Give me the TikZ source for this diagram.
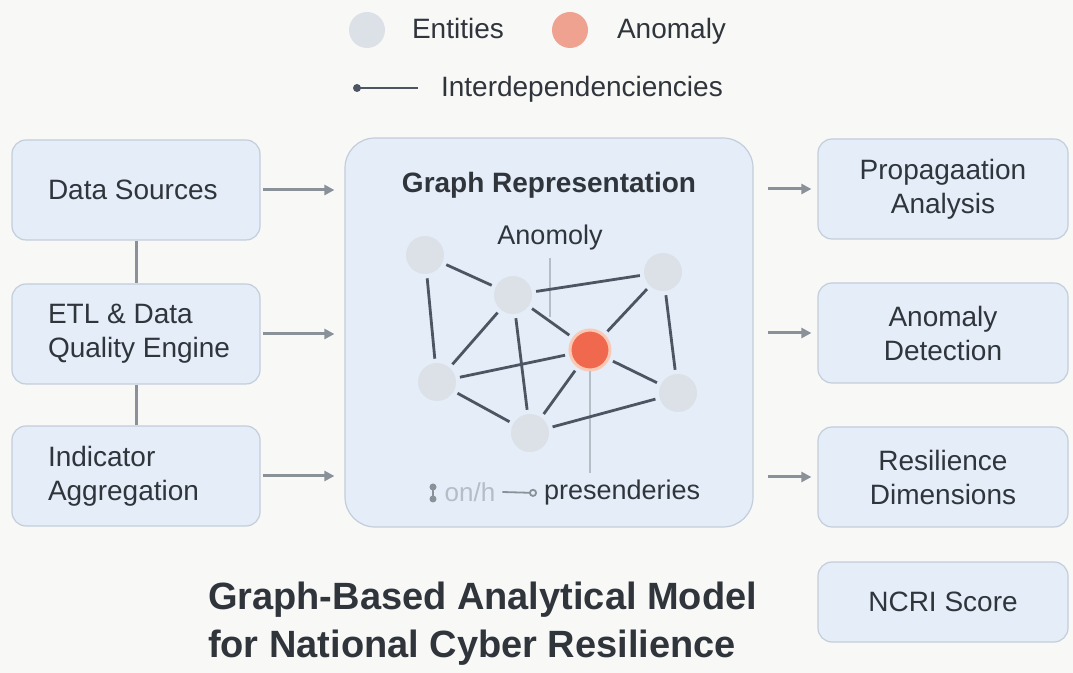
\documentclass[tikz,border=0pt]{standalone}
\usepackage{fontspec}
\setmainfont{Liberation Sans}
\usetikzlibrary{arrows.meta}

\definecolor{ink}{HTML}{30353C}
\definecolor{boxfill}{HTML}{E4EDF8}
\definecolor{boxline}{HTML}{C3CEDA}
\definecolor{edgegray}{HTML}{4C5561}
\definecolor{flowgray}{HTML}{8A9199}
\definecolor{entgray}{HTML}{DCE1E7}
\definecolor{anomred}{HTML}{F0694E}
\definecolor{anomhalo}{HTML}{F9C9B6}
\definecolor{anomsoft}{HTML}{EFA290}
\definecolor{pagebg}{HTML}{F8F8F7}
\definecolor{guide}{HTML}{B5BDC6}

\tikzset{
  lbl/.style={font=\fontsize{14}{17}\selectfont, text=ink},
  srcbox/.style={lbl, draw=boxline, fill=boxfill, line width=0.6pt, rounded corners=7pt,
    minimum width=124pt, minimum height=50pt, text width=88pt, align=flush left},
  outbox/.style={srcbox, minimum width=125pt, text width=110pt, align=flush center},
  entity/.style={circle, fill=entgray, minimum size=19pt, inner sep=0pt},
  anomnode/.style={circle, fill=anomred, draw=anomhalo, line width=1.5pt, minimum size=20pt, inner sep=0pt},
  link/.style={draw=edgegray, line width=1.4pt, shorten <=2pt, shorten >=2pt},
  flow/.style={draw=flowgray, line width=1.5pt, -{Triangle[length=5pt,width=5pt]}},
  guideline/.style={draw=guide, line width=0.8pt},
}

\begin{document}
\begin{tikzpicture}[x=0.5pt, y=-0.5pt]
    % page
    \fill[pagebg] (0,0) rectangle (1073,673);
    \useasboundingbox (0,0) rectangle (1073,673);

    % Legend
    \node[circle, fill=entgray, minimum size=18pt, inner sep=0pt] (lgent) at (367,30) {};
    \node[lbl, anchor=base west] (lgenttxt) at (405,39) {Entities};
    \node[circle, fill=anomsoft, minimum size=18pt, inner sep=0pt] (lganom) at (570,30) {};
    \node[lbl, anchor=base west] (lganomtxt) at (610,39) {Anomaly};
    \coordinate (lgA) at (357,88);
    \coordinate (lgB) at (418,88);
    \node[lbl, anchor=base west] (lgdeptxt) at (434,97) {Interdependenciencies};
    \draw[edgegray, line width=1.4pt] (lgA) -- (lgB);
    \fill[edgegray] (lgA) circle (4);

    % Input column
    \node[srcbox] (src) at (136,190) {Data Sources};
    \node[srcbox] (etl) at (136,334) {ETL \& Data\\\mbox{Quality Engine}};
    \node[srcbox] (ind) at (136,476) {Indicator\\Aggregation};
    \draw[flowgray, line width=1.5pt] (src.south) -- (etl.north);
    \draw[flowgray, line width=1.5pt] (etl.south) -- (ind.north);

    % Graph box
    \node[draw=boxline, fill=boxfill, line width=0.6pt, rounded corners=15pt,
          minimum width=204pt, minimum height=194.5pt] (graphbox) at (549,332.5) {};
    \node[lbl, font=\fontsize{14}{17}\selectfont\bfseries] (graphtitle) at (549,185) {Graph Representation};

    \foreach \b in {src, etl, ind}
        \draw[flow, shorten <=1pt, shorten >=5pt] (\b.east) -- (\b.east -| graphbox.west);

    % Output column
    \node[outbox] (prop) at (943,189) {Propagaation\\Analysis};
    \node[outbox] (detect) at (943,333) {Anomaly\\Detection};
    \node[outbox] (resil) at (943,477) {Resilience\\Dimensions};
    \node[outbox, minimum height=40pt] (ncri) at (943,602) {NCRI Score};

    \foreach \b in {prop, detect, resil}
        \draw[flow, shorten <=7pt, shorten >=3pt] (\b.west -| graphbox.east) -- (\b.west);

    % Graph nodes
    \node[entity] (g1) at (425,255) {};
    \node[entity] (g2) at (513,295) {};
    \node[entity] (g3) at (663,272) {};
    \node[anomnode] (ga) at (590,350) {};
    \node[entity] (g4) at (437,382) {};
    \node[entity] (g5) at (678,393) {};
    \node[entity] (g6) at (530,433) {};

    % labels inside the graph box
    \node[lbl, font=\fontsize{13.5}{16}\selectfont] (anomlbl) at (550,238) {Anomoly};
    \coordinate (anomtick) at (550,317);
    \coordinate (presfoot) at (590,473);
    \draw[guideline] (anomlbl.south) -- (anomtick);
    \draw[guideline] (ga.south) -- (presfoot);

    % Interdependencies
    \foreach \a/\b in {g1/g2, g1/g4, g2/g3, g2/ga, g2/g4, g2/g6, g3/ga, g3/g5,
                       g4/ga, g4/g6, ga/g6, ga/g5, g6/g5}
        \draw[link] (\a) -- (\b);

    % garbled key at the bottom of the box
    \draw[flowgray, line width=1.2pt] (433,487) -- (433,499);
    \fill[flowgray] (433,487) circle (3.5) (433,499) circle (3.5);
    \node[lbl, text=guide, font=\fontsize{13}{16}\selectfont] (onh) at (470,492) {on/h};
    \node[lbl, font=\fontsize{13.5}{16}\selectfont, anchor=west] (pres) at (537,493) {presenderies};
    \draw[flowgray, line width=0.9pt, -{Circle[open,length=4pt]}] (onh.east) -- (pres.west);

    % Title
    \node[lbl, font=\fontsize{19}{24}\selectfont\bfseries, anchor=west, align=left] (title) at (201,624)
        {Graph-Based Analytical Model\\for National Cyber Resilience};
\end{tikzpicture}
\end{document}
